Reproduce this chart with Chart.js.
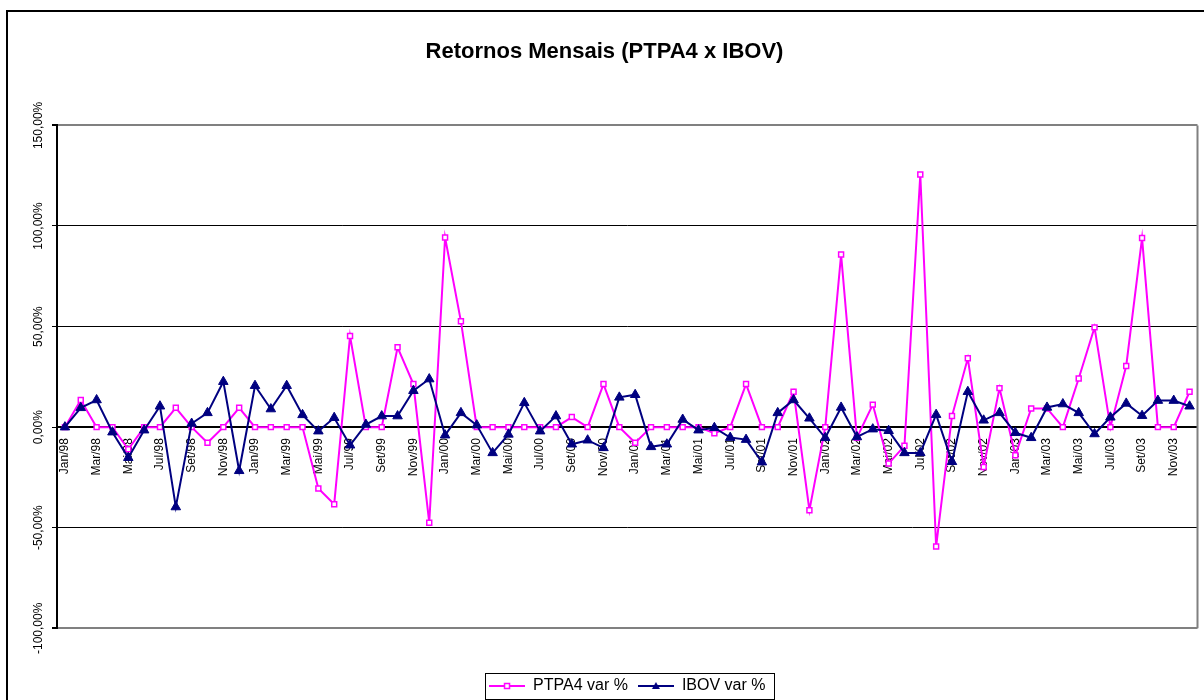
<!DOCTYPE html>
<html>
<head>
<meta charset="utf-8">
<script src="https://cdn.jsdelivr.net/npm/chart.js@4.4.1/dist/chart.umd.min.js"></script>
<style>
    html, body { margin: 0; padding: 0; background: #fff; overflow: hidden; }
    #frame { position: absolute; left: 6px; top: 10px; width: 1300px; height: 800px; border: 2px solid #000; }
    #chart { position: absolute; left: 0; top: 0; }
</style>
</head>
<body>
<div id="frame"></div>
<canvas id="chart" width="1204" height="700"></canvas>
<script>
// monthly returns, in %
const monthNames = ['Jan', 'Fev', 'Mar', 'Abr', 'Mai', 'Jun', 'Jul', 'Ago', 'Set', 'Out', 'Nov', 'Dez'];
const years = ['98', '99', '00', '01', '02', '03'];
const labels = years.flatMap(y => monthNames.map(m => m + '/' + y));

const ptpa4 = [
    0, 13.5, 0, 0, -11, 0, 0, 9.6, 0, -7.8, 0, 9.6,            // 1998
    0, 0, 0, 0, -30.5, -38.3, 45.3, 0, 0, 39.7, 21.4, -47.5,   // 1999
    94.3, 52.6, 0, 0, 0, 0, 0, 0, 5, 0, 21.4, 0,               // 2000
    -7.8, 0, 0, 0, 0, -3, 0, 21.4, 0, 0, 17.6, -41.3,          // 2001
    0, 85.8, -5.3, 11.2, -18.1, -9.3, 125.6, -59.3, 5.5, 34.2, -19.8, 19.4, // 2002
    -14, 9.3, 9.3, 0, 24.2, 49.6, 0, 30.4, 94, 0, 0, 17.6      // 2003
];
const ibov = [
    0, 9.6, 13.5, -2.5, -15.2, -1.5, 10.4, -39.7, 1.8, 7.1, 22.6, -21.7,
    20.6, 9, 20.6, 6.1, -2, 4.7, -9, 1.3, 5.5, 5.5, 18.1, 23.9,
    -4, 7.1, 1, -12.8, -3.6, 12.1, -2, 5.5, -8.5, -6.5, -10.3, 14.8,
    16.1, -9.8, -8.5, 3.8, -1.5, -0.3, -5.2, -6.2, -17.4, 7.1, 13.5, 4.4,
    -5.3, 9.8, -4.9, -1, -1.8, -12.8, -12.8, 6.2, -17.2, 17.6, 3.4, 7.1,
    -2.8, -5.3, 9.8, 11.5, 7.1, -3.4, 4.9, 11.8, 5.7, 13.2, 13.2, 10.4
];

Chart.defaults.font.family = '"Liberation Sans", Arial, sans-serif';
Chart.defaults.color = '#000';

// little line + marker sample for the legend
function legendSample(color, style) {
    const c = document.createElement('canvas');
    c.width = 36;
    c.height = 12;
    const g = c.getContext('2d');
    g.strokeStyle = color;
    g.lineWidth = 2;
    g.beginPath();
    g.moveTo(0, 6);
    g.lineTo(36, 6);
    g.stroke();
    if (style === 'rect') {
        g.fillStyle = '#fff';
        g.lineWidth = 1.5;
        g.fillRect(15.5, 3.5, 5, 5);
        g.strokeRect(15.5, 3.5, 5, 5);
    } else {
        g.fillStyle = color;
        g.beginPath();
        g.moveTo(18, 2);
        g.lineTo(22, 9);
        g.lineTo(14, 9);
        g.closePath();
        g.fill();
    }
    return c;
}
const samples = [legendSample('#ff00ff', 'rect'), legendSample('#000080', 'triangle')];

const plotFrame = {
    id: 'plotFrame',
    beforeDatasetsDraw(chart) {
        const {ctx, chartArea: a} = chart;
        ctx.save();
        ctx.strokeStyle = '#808080';
        ctx.lineWidth = 2;
        ctx.beginPath();
        ctx.moveTo(a.right, a.top);
        ctx.lineTo(a.right, a.bottom);
        ctx.stroke();
        ctx.restore();
    },
    afterDraw(chart) {
        const boxes = chart.legend.legendHitBoxes;
        if (!boxes || !boxes.length) return;
        const l = Math.min(...boxes.map(b => b.left)) - 4;
        const r = Math.max(...boxes.map(b => b.left + b.width)) + 9;
        const t = boxes[0].top - 5;
        const ctx = chart.ctx;
        ctx.save();
        ctx.strokeStyle = '#000';
        ctx.lineWidth = 1;
        ctx.strokeRect(Math.round(l) + 0.5, Math.round(t) + 0.5, Math.round(r - l), 26);
        ctx.restore();
    }
};

const chart = new Chart(document.getElementById('chart'), {
    type: 'line',
    data: {
        labels: labels,
        datasets: [{
            label: 'PTPA4 var %',
            data: ptpa4,
            borderColor: '#ff00ff',
            borderWidth: 2,
            pointStyle: 'rect',
            pointRadius: 3.5,
            pointBorderWidth: 1.5,
            pointBackgroundColor: '#fff',
            pointBorderColor: '#ff00ff',
            order: 1
        }, {
            label: 'IBOV var %',
            data: ibov,
            borderColor: '#000080',
            borderWidth: 2,
            pointStyle: 'triangle',
            pointRadius: 5.5,
            pointBackgroundColor: '#000080',
            pointBorderColor: '#000080',
            pointBorderWidth: 1,
            order: 0
        }]
    },
    options: {
        responsive: false,
        animation: false,
        layout: { padding: { left: 10, right: 5, top: 0, bottom: -4 } },
        scales: {
            x: {
                position: { y: 0 },
                offset: true,
                grid: { display: false },
                border: { color: '#000', width: 2 },
                ticks: {
                    autoSkip: false,
                    minRotation: 90,
                    maxRotation: 90,
                    padding: 3,
                    font: { size: 12 },
                    color: '#000',
                    callback: function (v, i) { return i % 2 === 0 ? this.getLabelForValue(v) : ''; }
                },
                afterFit: s => { s.height = 0; s.paddingLeft = 0; s.paddingRight = 0; }
            },
            y: {
                min: -100,
                max: 150,
                ticks: {
                    stepSize: 50,
                    minRotation: 90,
                    maxRotation: 90,
                    crossAlign: 'center',
                    padding: -12,
                    font: { size: 12 },
                    color: '#000',
                    callback: v => v.toFixed(2).replace('.', ',') + '%'
                },
                grid: {
                    color: c => (c.tick && (c.tick.value === 150 || c.tick.value === -100)) ? '#808080' : '#000',
                    lineWidth: c => (c.tick && (c.tick.value === 150 || c.tick.value === -100)) ? 2 : 1,
                    tickColor: '#000',
                    tickLength: 5
                },
                border: { color: '#000', width: 2 },
                afterFit: s => { s.width = 47; s.paddingTop = 0; s.paddingBottom = 0; }
            }
        },
        plugins: {
            title: {
                display: true,
                text: 'Retornos Mensais (PTPA4 x IBOV)',
                color: '#000',
                font: { size: 22, weight: 'bold' },
                padding: { top: 39, bottom: 60 }
            },
            legend: {
                position: 'bottom',
                fullSize: false,
                title: { display: true, text: '', font: { size: 1 }, padding: { top: 38.5, bottom: 0 } },
                labels: {
                    usePointStyle: true,
                    pointStyleWidth: 36,
                    font: { size: 16 },
                    padding: 10,
                    generateLabels: c => c.data.datasets.map((ds, i) => ({
                        text: ds.label,
                        pointStyle: samples[i],
                        datasetIndex: i,
                        fontColor: '#000',
                        hidden: false,
                        lineWidth: 0
                    }))
                }
            },
            tooltip: { enabled: false }
        }
    },
    plugins: [plotFrame]
});
</script>
</body>
</html>
